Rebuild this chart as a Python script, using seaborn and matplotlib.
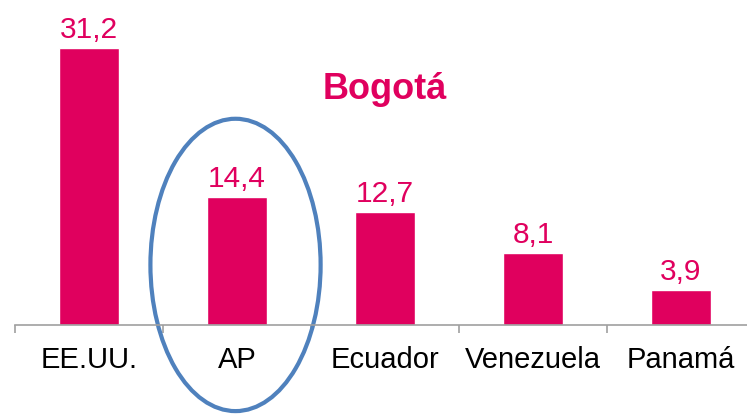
import matplotlib
matplotlib.use("Agg")
import matplotlib.pyplot as plt
from matplotlib.patches import Ellipse
import seaborn as sns
import pandas as pd

categories = ["EE.UU.", "AP", "Ecuador", "Venezuela", "Panamá"]
values = [31.2, 14.4, 12.7, 8.1, 3.9]
labels = ["31,2", "14,4", "12,7", "8,1", "3,9"]

pink = "#E0005E"
blue = "#4F81BD"

sns.set_style("white")
plt.rcParams["font.family"] = ["Liberation Sans", "DejaVu Sans"]

df = pd.DataFrame({"pais": categories, "valor": values})

fig = plt.figure(figsize=(7.47, 4.17), dpi=100)
W, H = 747, 417
# axes: left 15px, bottom line at 325px, 148px per category
ax = fig.add_axes([15 / W, 1 - 325 / H, 740 / W, (325 - 14) / H])

sns.barplot(data=df, x="pais", y="valor", color=pink, saturation=1, width=0.4, ax=ax)
ax.set_xlim(-0.5, 4.5)
ax.set_ylim(0, 35)

for i, (v, t) in enumerate(zip(values, labels)):
    ax.annotate(t, (i, v), xytext=(0, 3), textcoords="offset points",
                ha="center", va="bottom", fontsize=21.5, color=pink)

sns.despine(ax=ax, left=True)
ax.spines["bottom"].set_color("#A0A0A0")
ax.spines["bottom"].set_linewidth(1.2)
ax.set_yticks([])
ax.set_xlabel("")
ax.set_ylabel("")
ax.set_xticks(range(len(categories)))
ax.set_xticklabels(categories, fontsize=21, color="black")
ax.tick_params(axis="x", which="major", length=0, pad=15)
ax.set_xticks([i - 0.5 for i in range(len(categories) + 1)], minor=True)
ax.tick_params(axis="x", which="minor", bottom=True, length=6, width=1.2,
               color="#A0A0A0", direction="out")

ax.text(2, 26.5, "Bogotá", ha="center", va="center", fontsize=26,
        fontweight="bold", color=pink)

ell = Ellipse((0.99, 6.76), 1.15, 32.9, fill=False, edgecolor=blue,
              linewidth=3, clip_on=False)
ax.add_patch(ell)

fig.savefig("out.png", dpi=100)
